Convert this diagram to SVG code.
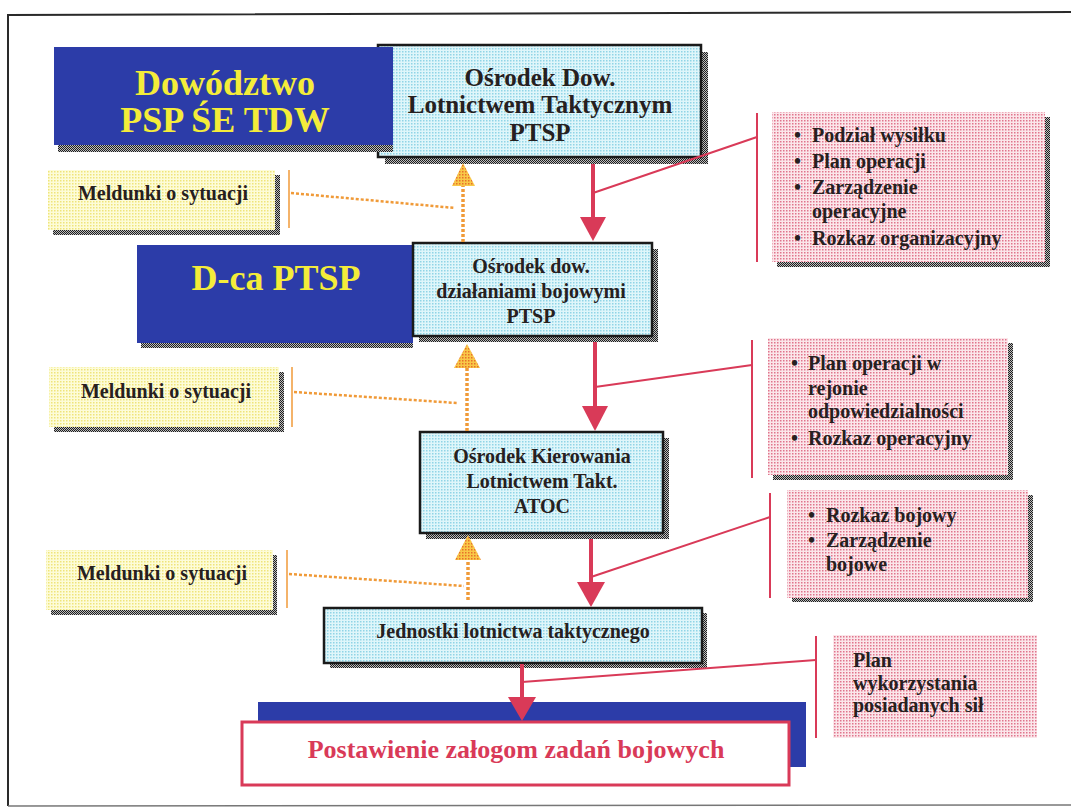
<svg xmlns="http://www.w3.org/2000/svg" width="1071" height="809" viewBox="0 0 1071 809">
<style>
.t{font-family:"Liberation Serif","Times New Roman",serif;font-weight:bold;fill:#262020}
.big{font-size:36px;fill:#f4ec3a;text-anchor:middle}
.mid{font-size:25px;text-anchor:middle}
.big2{font-size:26px;text-anchor:middle}
.sm{font-size:20px;text-anchor:middle}
.lst{font-size:20px}
.cy{fill:url(#cyanP);stroke:#1a1a1a;stroke-width:2.5}
.blue{fill:#2c3ca8}
.pink{fill:url(#pinkP)}
.yel{fill:url(#yelP)}
.sh{fill:url(#shP)}
.red{stroke:#d93a58;fill:none}
.or{stroke:#f09a38;fill:none}
</style>
<defs>
<pattern id="cyanP" width="3" height="3" patternUnits="userSpaceOnUse"><rect width="3" height="3" fill="#dff6fa"/><rect width="1.5" height="1.5" fill="#90d4e6"/></pattern>
<pattern id="pinkP" width="3" height="3" patternUnits="userSpaceOnUse"><rect width="3" height="3" fill="#fbe6ea"/><rect width="1.5" height="1.5" fill="#e0748c"/></pattern>
<pattern id="yelP" width="3" height="3" patternUnits="userSpaceOnUse"><rect width="3" height="3" fill="#fdfcd8"/><rect width="1.5" height="1.5" fill="#efe47a"/></pattern>
<pattern id="shP" width="2" height="2" patternUnits="userSpaceOnUse"><rect width="2" height="2" fill="#bdbdbd"/><rect width="1" height="1" fill="#1e1e1e"/><rect x="1" y="1" width="1" height="1" fill="#1e1e1e"/></pattern>
<pattern id="orP" width="3" height="3" patternUnits="userSpaceOnUse"><rect width="3" height="3" fill="#f8c848"/><rect width="1.5" height="1.5" fill="#e8702a"/></pattern>
</defs>

<g id="frame" fill="none" stroke="#2a2a2a">
<path d="M8,806 L8,15 L1071,12" stroke-width="2"/>
<path d="M8,806 L1071,805" stroke-width="1.5" stroke="#777"/>
</g>

<g id="node-osrodek-dow">
<rect class="sh" x="385" y="52" width="323" height="112"/>
<rect class="cy" x="378" y="45" width="323" height="112"/>
<text class="t mid" x="540" y="86">Ośrodek Dow.</text>
<text class="t mid" x="540" y="113">Lotnictwem Taktycznym</text>
<text class="t mid" x="540" y="141">PTSP</text>
</g>

<g id="node-dowodztwo">
<rect class="sh" x="58" y="140" width="335" height="12"/>
<rect class="blue" x="54" y="47" width="339" height="98"/>
<text class="t big" x="225" y="95">Dowództwo</text>
<text class="t big" x="225" y="132">PSP ŚE TDW</text>
</g>

<g id="node-dca">
<rect class="sh" x="141" y="338" width="272" height="10"/>
<rect class="blue" x="137" y="245" width="276" height="98"/>
<text class="t big" x="276" y="290">D-ca PTSP</text>
</g>

<g id="node-osrodek-bojowymi">
<rect class="sh" x="419" y="249" width="239" height="93"/>
<rect class="cy" x="413" y="243" width="239" height="93"/>
<text class="t sm" x="531" y="273">Ośrodek dow.</text>
<text class="t sm" x="531" y="298">działaniami bojowymi</text>
<text class="t sm" x="531" y="323">PTSP</text>
</g>

<g id="node-atoc">
<rect class="sh" x="426" y="438" width="243" height="101"/>
<rect class="cy" x="420" y="432" width="243" height="101"/>
<text class="t sm" x="542" y="463">Ośrodek Kierowania</text>
<text class="t sm" x="542" y="488">Lotnictwem Takt.</text>
<text class="t sm" x="542" y="513">ATOC</text>
</g>

<g id="node-jednostki">
<rect class="sh" x="330" y="613" width="377" height="55"/>
<rect class="cy" x="324" y="608" width="378" height="55"/>
<text class="t sm" x="513" y="638">Jednostki lotnictwa taktycznego</text>
</g>

<g id="node-postawienie">
<rect class="blue" x="258" y="702" width="548" height="65"/>
<rect x="242" y="722" width="547" height="63" fill="#fff" stroke="#d93a58" stroke-width="3"/>
<text class="t big2" x="516" y="758" style="fill:#d93a58">Postawienie załogom zadań bojowych</text>
</g>

<g id="node-meldunki-1">
<rect class="sh" x="53" y="175" width="227" height="60"/>
<rect class="yel" x="48" y="170" width="227" height="60"/>
<text class="t sm" x="163" y="200">Meldunki o sytuacji</text>
</g>
<g id="node-meldunki-2">
<rect class="sh" x="54" y="372" width="230" height="60"/>
<rect class="yel" x="49" y="367" width="230" height="60"/>
<text class="t sm" x="166" y="398">Meldunki o sytuacji</text>
</g>
<g id="node-meldunki-3">
<rect class="sh" x="51" y="555" width="226" height="60"/>
<rect class="yel" x="46" y="550" width="227" height="60"/>
<text class="t sm" x="162" y="580">Meldunki o sytuacji</text>
</g>

<g id="node-note-1">
<rect class="sh" x="777" y="117" width="273" height="150"/>
<rect class="pink" x="772" y="112" width="273" height="150"/>
<g class="t lst">
<text x="794" y="142">•</text><text x="812" y="142">Podział wysiłku</text>
<text x="794" y="168">•</text><text x="812" y="168">Plan operacji</text>
<text x="794" y="194">•</text><text x="812" y="194">Zarządzenie</text>
<text x="812" y="218">operacyjne</text>
<text x="794" y="245">•</text><text x="812" y="245">Rozkaz organizacyjny</text>
</g>
</g>
<g id="node-note-2">
<rect class="sh" x="773" y="343" width="240" height="137"/>
<rect class="pink" x="768" y="338" width="240" height="137"/>
<g class="t lst">
<text x="791" y="370">•</text><text x="808" y="370">Plan operacji w</text>
<text x="808" y="395">rejonie</text>
<text x="808" y="418">odpowiedzialności</text>
<text x="791" y="445">•</text><text x="808" y="445">Rozkaz operacyjny</text>
</g>
</g>
<g id="node-note-3">
<rect class="sh" x="792" y="495" width="241" height="107"/>
<rect class="pink" x="787" y="490" width="241" height="108"/>
<g class="t lst">
<text x="808" y="522">•</text><text x="826" y="522">Rozkaz bojowy</text>
<text x="808" y="547">•</text><text x="826" y="547">Zarządzenie</text>
<text x="826" y="571">bojowe</text>
</g>
</g>
<g id="node-note-4">
<rect class="pink" x="833" y="635" width="204" height="103"/>
<g class="t lst">
<text x="853" y="667">Plan</text>
<text x="853" y="690">wykorzystania</text>
<text x="853" y="712">posiadanych sił</text>
</g>
</g>

<g id="connectors">
<g class="red">
<line x1="593" y1="164" x2="593" y2="218" stroke-width="4"/>
<line x1="595" y1="342" x2="595" y2="408" stroke-width="4"/>
<line x1="591" y1="539" x2="591" y2="583" stroke-width="4"/>
<line x1="522" y1="664" x2="522" y2="698" stroke-width="4"/>
<polyline points="593,193 757,137" stroke-width="2"/>
<line x1="757" y1="113" x2="757" y2="262" stroke-width="2"/>
<polyline points="595,387 752,365" stroke-width="2"/>
<line x1="752" y1="340" x2="752" y2="478" stroke-width="2"/>
<polyline points="591,577 770,517" stroke-width="2"/>
<line x1="770" y1="493" x2="770" y2="598" stroke-width="2"/>
<polyline points="522,682 816,660" stroke-width="2"/>
<line x1="816" y1="636" x2="816" y2="738" stroke-width="2"/>
</g>
<g fill="#d93a58">
<polygon points="580,217 606,217 593,241"/>
<polygon points="582,406 608,406 595,431"/>
<polygon points="577,582 605,582 591,607"/>
<polygon points="508,697 536,697 522,721"/>
</g>
<g class="or">
<line x1="289" y1="170" x2="289" y2="228" stroke-width="1.5"/>
<line x1="291" y1="193" x2="455" y2="208" stroke-width="2.5" stroke-dasharray="3 2"/>
<line x1="463" y1="242" x2="463" y2="186" stroke-width="3.5" stroke-dasharray="3 2"/>
<line x1="292" y1="367" x2="292" y2="427" stroke-width="1.5"/>
<line x1="294" y1="392" x2="457" y2="403" stroke-width="2.5" stroke-dasharray="3 2"/>
<line x1="467" y1="431" x2="467" y2="368" stroke-width="3.5" stroke-dasharray="3 2"/>
<line x1="287" y1="550" x2="287" y2="608" stroke-width="1.5"/>
<line x1="289" y1="574" x2="464" y2="586" stroke-width="2.5" stroke-dasharray="3 2"/>
<line x1="468" y1="600" x2="468" y2="560" stroke-width="3.5" stroke-dasharray="3 2"/>
</g>
<g fill="url(#orP)">
<polygon points="452,186 475,186 463,163"/>
<polygon points="454,368 480,368 467,344"/>
<polygon points="455,560 481,560 468,535"/>
</g>
</g>
</svg>
